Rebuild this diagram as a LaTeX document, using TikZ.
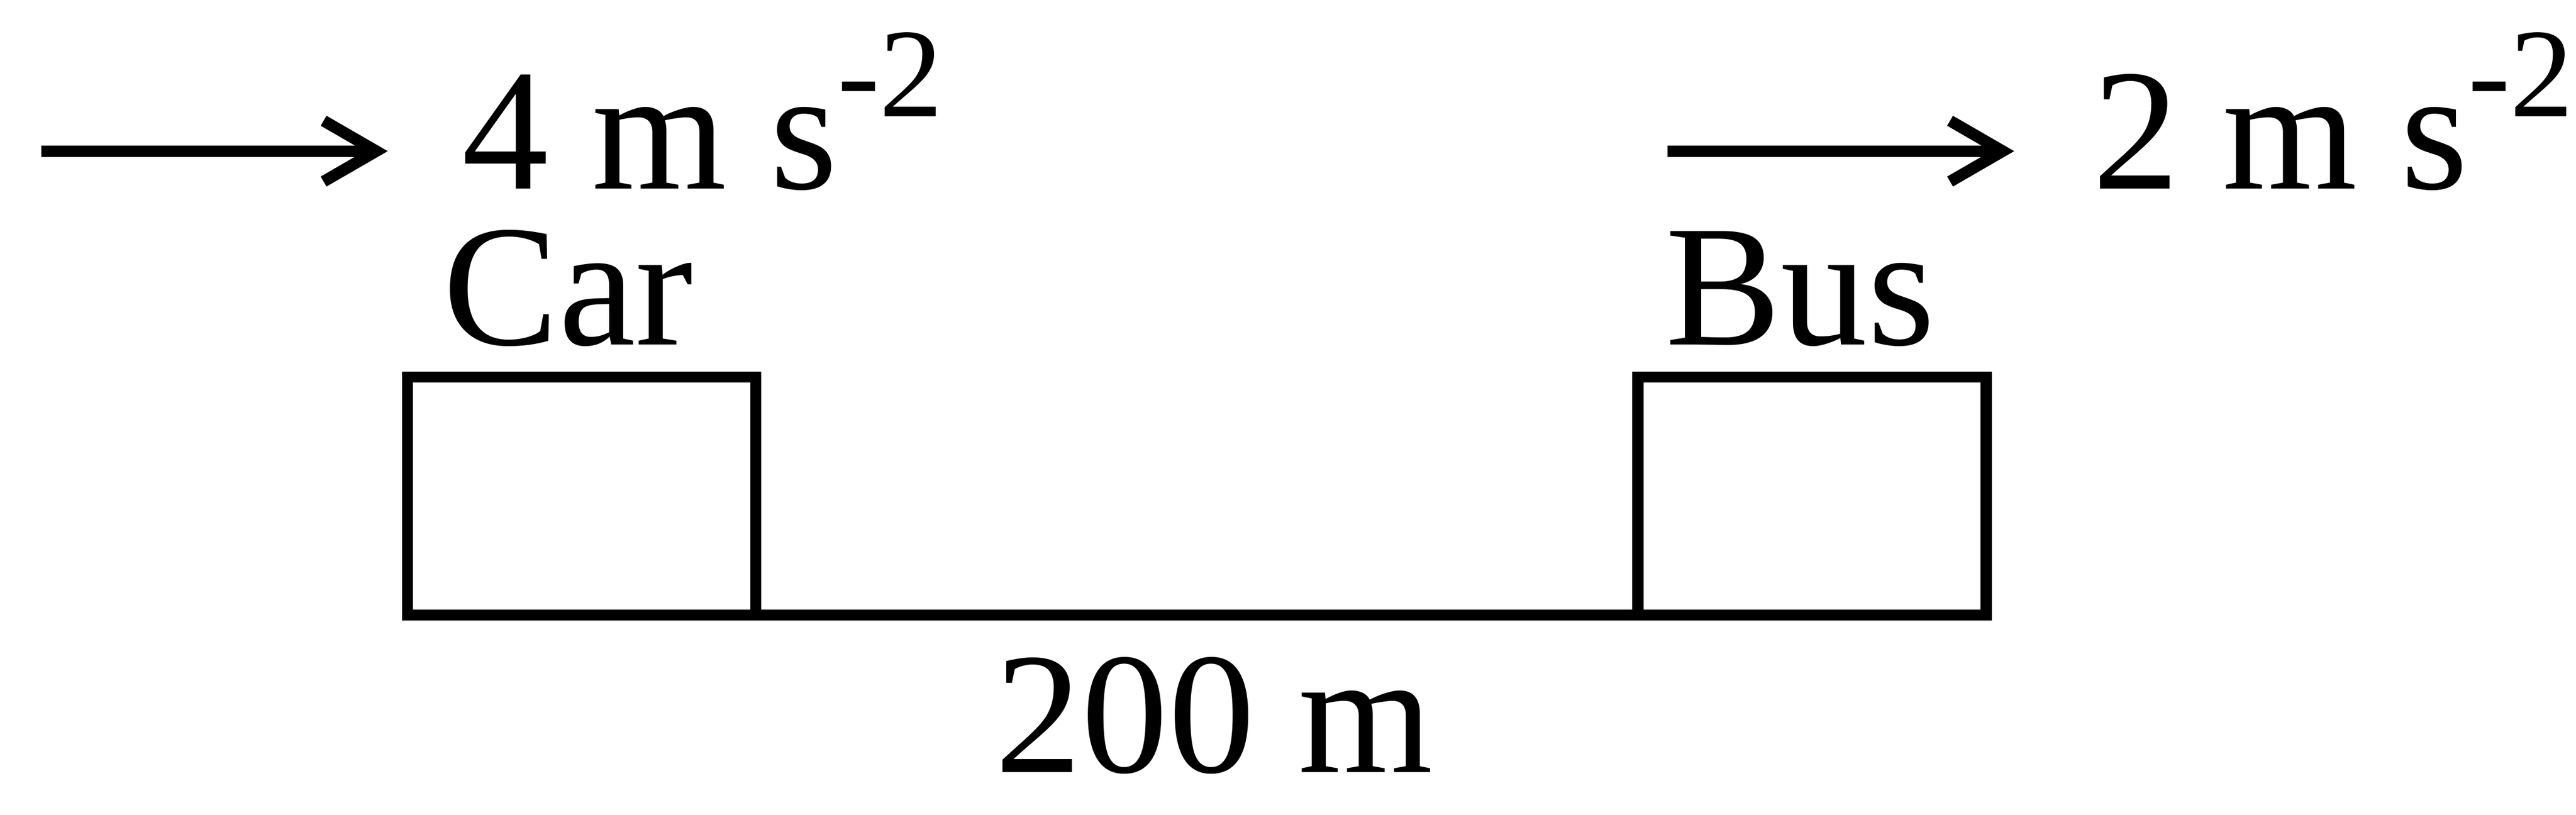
\documentclass[tikz,border=0pt]{standalone}
\usepackage{fontspec}
\setmainfont{Liberation Serif}
\usepackage{tikz}
\usetikzlibrary{arrows.meta}
\tikzstyle{vehicle} = [rectangle, 
minimum width=2.12cm, 
minimum height=1.45cm, 
outer sep=0pt, 
line width=1.9pt, 
draw=black]
\tikzstyle{txt} = [inner sep=0pt, 
anchor=base west, 
font=\fontsize{30}{36}\selectfont]
\tikzstyle{arrow} = [line width=2pt, -{Straight Barb[length=3.2mm, width=3.7mm]}]
\tikzstyle{gap} = [line width=1.9pt]
\newcommand{\accsup}{\raisebox{0.44cm}{\fontsize{22}{22}\selectfont -2}}

\begin{document}
\begin{tikzpicture}
			\useasboundingbox (0,0) rectangle (15.68,-4.96);
			
			\node (car)[vehicle] at (3.54,-3.02) {};
			\node (bus)[vehicle] at (11.03,-3.02) {};
			\draw [gap] (car.south east) -- (bus.south west);
			
			\node (carName)[txt] at (2.69,-2.10) {Car};
			\node (busName)[txt] at (10.13,-2.10) {Bus};
			\node (dist)[txt] at (6.05,-4.70) {200 m};
			
			\coordinate (carTail) at (0.25,-0.92);
			\coordinate (carHead) at (2.36,-0.92);
			\draw [arrow] (carTail) -- (carHead);
			\node (carAcc)[txt] at (2.805,-1.15) {4 m s\accsup};
			
			\coordinate (busTail) at (10.15,-0.92);
			\coordinate (busHead) at (12.26,-0.92);
			\draw [arrow] (busTail) -- (busHead);
			\node (busAcc)[txt] at (12.73,-1.15) {2 m s\accsup};
		\end{tikzpicture}
\end{document}
